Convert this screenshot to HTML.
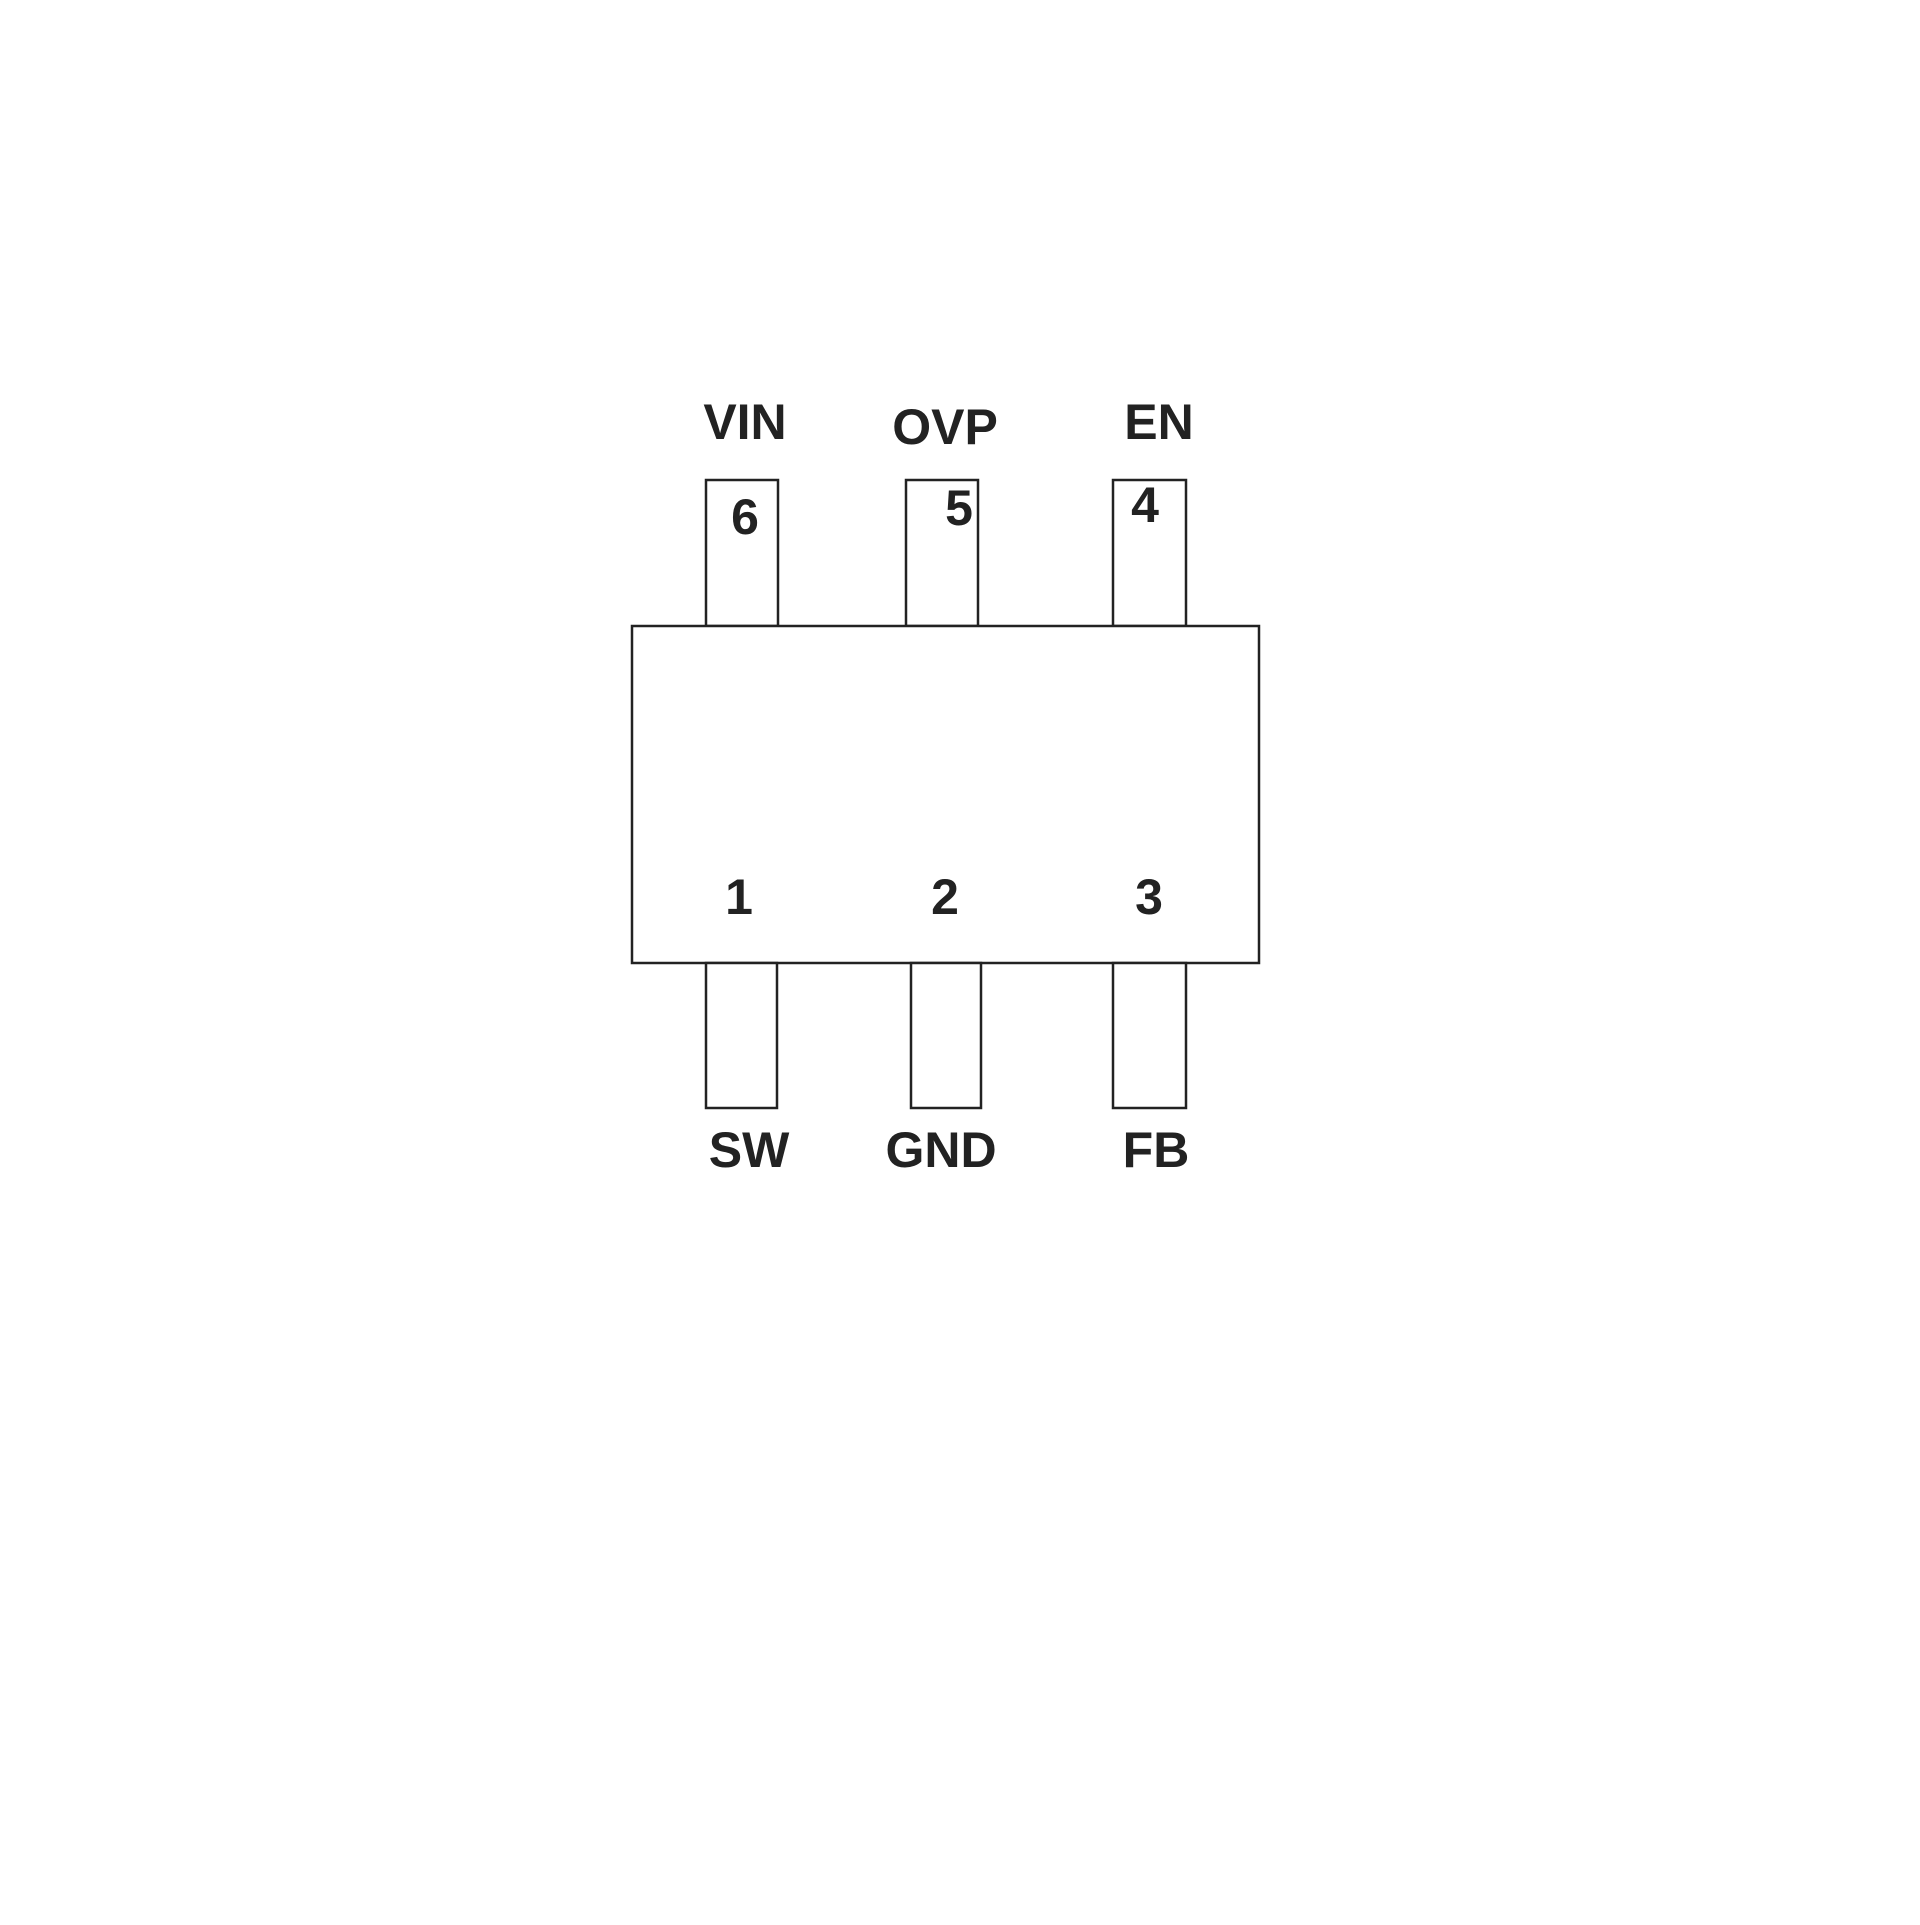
<!DOCTYPE html>
<html><head><style>html,body{margin:0;background:#fff}</style></head><body>
<svg width="1920" height="1920" viewBox="0 0 1920 1920" xmlns="http://www.w3.org/2000/svg">
<g fill="#fff" stroke="#222" stroke-width="2.5">
<rect x="706" y="480" width="72" height="146"/>
<rect x="906" y="480" width="72" height="146"/>
<rect x="1113" y="480" width="73" height="146"/>
<rect x="632" y="626" width="627" height="337"/>
<rect x="706" y="963" width="71" height="145"/>
<rect x="911" y="963" width="70" height="145"/>
<rect x="1113" y="963" width="73" height="145"/>
</g>
<g font-family="Liberation Sans, sans-serif" font-weight="bold" font-size="50" fill="#222" text-anchor="middle">
<text x="745" y="439">VIN</text>
<text x="945" y="444">OVP</text>
<text x="1159" y="439">EN</text>
<text x="745" y="534">6</text>
<text x="959" y="525">5</text>
<text x="1145" y="522">4</text>
<text x="739" y="914">1</text>
<text x="945" y="914">2</text>
<text x="1149" y="914">3</text>
<text x="749" y="1167">SW</text>
<text x="941" y="1167">GND</text>
<text x="1156" y="1167">FB</text>
</g>
</svg>
</body></html>
